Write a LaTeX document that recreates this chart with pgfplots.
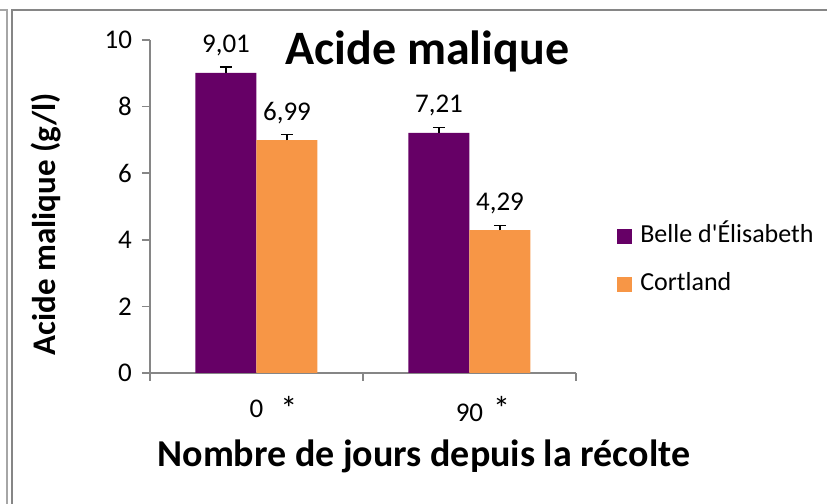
\documentclass[border=0pt]{standalone}
\usepackage{fontspec}
\setmainfont{Carlito}
\usepackage{pgfplots}
\pgfplotsset{compat=1.18}
\definecolor{belle}{HTML}{660066}
\definecolor{cort}{HTML}{F79646}
\definecolor{axgray}{HTML}{868686}
\definecolor{frameA}{HTML}{A6A6A6}
\definecolor{frameB}{HTML}{868686}
\newcommand{\sigstar}[1]{\raisebox{#1}{\fontsize{17}{17}\selectfont *}}

\begin{document}
\begin{tikzpicture}
\path[use as bounding box] (0,0) rectangle (413.5pt,252pt);
% window frame
\draw[frameA, line width=1pt] (3.5pt,0) -- (3.5pt,247pt) -- (0,247pt);
\draw[frameB, line width=1pt] (5.75pt,0) -- (5.75pt,246.75pt) -- (413.5pt,246.75pt);

\begin{axis}[
  at={(75pt,65.5pt)}, anchor=south west,
  scale only axis, width=213pt, height=166.5pt,
  clip=false,
  ybar=0pt, bar width=30.5pt,
  xmin=-0.5, xmax=1.5, ymin=0, ymax=10,
  axis lines*=left,
  axis line style={axgray, line width=0.75pt},
  tick align=outside,
  major tick length=4pt,
  tick style={axgray, line width=0.75pt},
  ytick={0,2,4,6,8,10},
  yticklabel style={xshift=-1.5pt},
  xtick={-0.5,0.5,1.5}, xticklabels={},
  extra x ticks={0,1},
  extra x tick labels={0\rlap{\hspace{8.5pt}\sigstar{-1.5pt}}, 90\rlap{\hspace{5pt}\sigstar{0.5pt}}},
  extra x tick style={major tick length=0pt, xticklabel style={yshift=-8pt}},
  ticklabel style={font=\fontsize{13.5}{16}\selectfont},
  /pgf/number format/assume math mode=true,
  /pgf/number format/use comma,
  title={Acide malique},
  title style={at={(axis description cs:0.651,0.889)}, anchor=base,
    font=\bfseries\fontsize{24}{28}\selectfont},
  xlabel={Nombre de jours depuis la récolte},
  xlabel style={at={(axis description cs:0.643,-0.282)}, anchor=base,
    font=\bfseries\fontsize{19}{22}\selectfont},
  ylabel={Acide malique (g/l)},
  ylabel style={at={(axis description cs:-0.2207,0.447)}, anchor=base,
    font=\bfseries\fontsize{16.5}{20}\selectfont},
  nodes near coords,
  nodes near coords style={font=\fontsize{13.5}{16}\selectfont, anchor=center,
    yshift=13.5pt, text=black,
    /pgf/number format/fixed, /pgf/number format/fixed zerofill,
    /pgf/number format/precision=2},
  error bars/y dir=plus, error bars/y explicit,
  error bars/error bar style={black, line width=0.6pt},
  error bars/error mark options={rotate=90, mark size=3pt, line width=0.6pt},
  legend cell align=left,
  legend style={at={(axis description cs:1.096,0.339)}, anchor=west,
    draw=none, fill=none, inner sep=0pt,
    font=\fontsize{13}{15}\selectfont,
    nodes={inner sep=1pt, text height=9pt, text depth=3pt},
    /tikz/every odd column/.append style={column sep=3pt},
    row sep=10pt},
  legend image code/.code={\fill[#1] (0pt,-3.75pt) rectangle (7.5pt,3.75pt);},
]
\addplot[fill=belle, draw=none] coordinates {(0,9.01) +- (0,0.18) (1,7.21) +- (0,0.17)};
\addplot[fill=cort, draw=none] coordinates {(0,6.99) +- (0,0.18) (1,4.29) +- (0,0.14)};
\legend{Belle d\textquotesingle Élisabeth, Cortland}
\end{axis}
\end{tikzpicture}
\end{document}
